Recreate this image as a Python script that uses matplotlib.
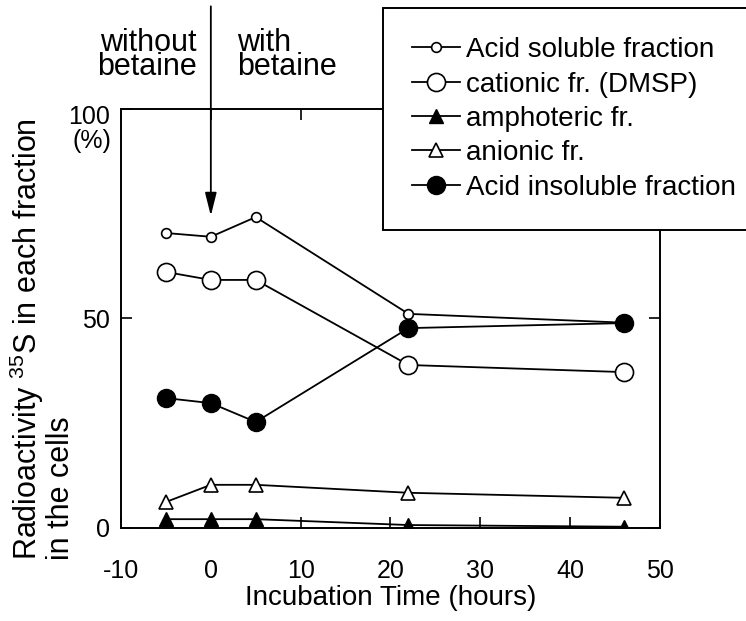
import matplotlib
matplotlib.use("Agg")
import matplotlib.pyplot as plt

plt.rcdefaults()
plt.rcParams['font.family'] = ['Liberation Sans', 'DejaVu Sans']
plt.rcParams['mathtext.fontset'] = 'custom'
plt.rcParams['mathtext.rm'] = 'Liberation Sans'
plt.rcParams['axes.unicode_minus'] = False

# incubation time (hours) and % of 35S in each fraction
hours = [-5, 0, 5, 22, 46]
acid_soluble = [70.4, 69.5, 74.2, 51.1, 49.0]
cationic = [61.1, 59.2, 59.2, 38.9, 37.2]
amphoteric = [2.1, 2.1, 2.1, 0.7, 0.3]
anionic = [6.2, 10.3, 10.3, 8.4, 7.2]
acid_insoluble = [31.0, 29.8, 25.3, 47.7, 48.9]

x_ticks = [-10, 0, 10, 20, 30, 40, 50]
y_ticks = [0, 50, 100]
y_ticklabels = ['0', '50', '']

fig = plt.figure(figsize=(7.46, 6.21), dpi=100)
ax = fig.add_axes([0.1622, 0.1498, 0.7225, 0.6747])

lw = 1.3
ax.plot(hours, acid_soluble, '-o', color='black', lw=lw, ms=7, mfc='white', mew=1.2,
        label='Acid soluble fraction', zorder=3)
ax.plot(hours, cationic, '-o', color='black', lw=lw, ms=13, mfc='white', mew=1.2,
        label='cationic fr. (DMSP)', zorder=3)
ax.plot(hours, amphoteric, '-^', color='black', lw=lw, ms=10, mfc='black',
        label='amphoteric fr.', zorder=3)
ax.plot(hours, anionic, '-^', color='black', lw=lw, ms=10, mfc='white', mew=1.2,
        label='anionic fr.', zorder=3)
ax.plot(hours, acid_insoluble, '-o', color='black', lw=lw, ms=13, mfc='black',
        label='Acid insoluble fraction', zorder=4)

ax.set_xlim(-10, 50)
ax.set_ylim(0, 100)
ax.set_xticks(x_ticks)
ax.set_yticks(y_ticks)
ax.set_yticklabels(y_ticklabels)
ax.tick_params(direction='in', length=8, width=1.2, labelsize=18, top=True, right=True,
               color='black')
ax.tick_params(axis='x', pad=22)
ax.tick_params(axis='y', pad=8)
for s in ax.spines.values():
    s.set_linewidth(1.4)

# "100 (%)" label at the top of the y axis
ax.annotate('100', xy=(0, 1), xycoords='axes fraction', xytext=(-8, -6),
            textcoords='offset points', ha='right', va='center', fontsize=18)
ax.annotate('(%)', xy=(0, 1), xycoords='axes fraction', xytext=(-7, -23),
            textcoords='offset points', ha='right', va='center', fontsize=18)

ax.set_xlabel('Incubation Time (hours)', fontsize=20, labelpad=2)
# y label, two lines written separately
fig.text(0.0365, 0.098, 'Radioactivity $^{35}$S in each fraction',
         rotation=90, ha='center', va='bottom', fontsize=22)
fig.text(0.082, 0.098, 'in the cells',
         rotation=90, ha='center', va='bottom', fontsize=22)

# arrow marking betaine addition
ax.annotate('', xy=(0, 74.5), xytext=(0, 124.5), xycoords='data',
            arrowprops=dict(arrowstyle='-|>,head_length=1.4,head_width=0.35',
                            color='black', lw=1.3, shrinkA=0, shrinkB=0),
            annotation_clip=False)
ax.text(-1.6, 112.8, 'without\nbetaine', ha='right', va='center', fontsize=22,
        linespacing=0.75)
ax.text(2.9, 112.8, 'with\nbetaine', ha='left', va='center', fontsize=22,
        linespacing=0.75)

# legend box runs off the right edge of the figure, as in the original
leg = ax.legend(loc='upper right', bbox_to_anchor=(765 / 746, 1 - 8 / 621),
                bbox_transform=fig.transFigure, borderaxespad=0, fontsize=20,
                frameon=True, fancybox=False, framealpha=1, edgecolor='black',
                handlelength=1.75, labelspacing=0.3, handletextpad=0.2,
                borderpad=1.05)
leg.get_frame().set_linewidth(1.4)
leg.set_zorder(10)

fig.savefig('out.png', dpi=100)
